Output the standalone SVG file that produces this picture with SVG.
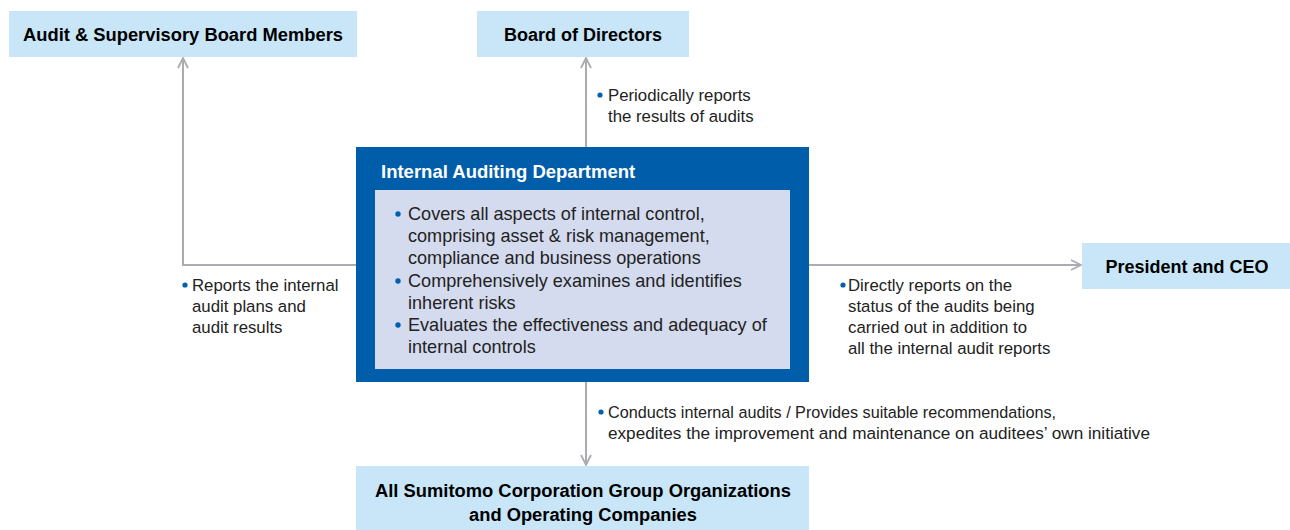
<svg xmlns="http://www.w3.org/2000/svg" width="1290" height="530" viewBox="0 0 1290 530">
<style>
.box{fill:#C8E6F8}
.bt{font-family:"Liberation Sans",Arial,sans-serif;font-weight:bold;font-size:18px;fill:#000;text-anchor:middle}
.lbl{font-family:"Liberation Sans",Arial,sans-serif;font-size:16.8px;fill:#222}
.body{font-family:"Liberation Sans",Arial,sans-serif;font-size:18.1px;fill:#222}
.dot{fill:#0060B0}
.con{stroke:#ABABB2;stroke-width:2;fill:none}
</style>
<defs>
<marker id="ah" viewBox="0 0 12 12" refX="11" refY="6" markerWidth="12" markerHeight="12" markerUnits="userSpaceOnUse" orient="auto">
<path d="M1,1 L11,6 L1,11" fill="none" stroke="#ABABB2" stroke-width="1.8"/>
</marker>
</defs>
<g id="connectors">
<polyline class="con" points="356,265 183,265 183,58" marker-end="url(#ah)"/>
<line class="con" x1="586" y1="147" x2="586" y2="58" marker-end="url(#ah)"/>
<line class="con" x1="809" y1="265" x2="1081" y2="265" marker-end="url(#ah)"/>
<line class="con" x1="586" y1="382" x2="586" y2="465" marker-end="url(#ah)"/>
</g>
<g id="audit-board">
<rect class="box" x="9" y="11" width="348" height="46"/>
<text class="bt" x="183" y="41" textLength="320" lengthAdjust="spacingAndGlyphs">Audit &amp; Supervisory Board Members</text>
</g>
<g id="board-directors">
<rect class="box" x="477" y="11" width="212" height="46"/>
<text class="bt" x="583" y="41">Board of Directors</text>
</g>
<g id="president">
<rect class="box" x="1082" y="243" width="208" height="46"/>
<text class="bt" x="1187" y="273">President and CEO</text>
</g>
<g id="group-orgs">
<rect class="box" x="356" y="466" width="453" height="64"/>
<text class="bt" x="583" y="497" textLength="416" lengthAdjust="spacingAndGlyphs">All Sumitomo Corporation Group Organizations</text>
<text class="bt" x="583" y="521" textLength="228" lengthAdjust="spacingAndGlyphs">and Operating Companies</text>
</g>
<g id="internal-auditing">
<rect x="356" y="147" width="453" height="235" fill="#005DAA"/>
<text x="381" y="178" font-family="Liberation Sans, Arial, sans-serif" font-weight="bold" font-size="18.5" fill="#fff">Internal Auditing Department</text>
<rect x="375" y="190" width="415" height="179" fill="#D4DBEE"/>
<circle class="dot" cx="398" cy="214" r="2.7"/>
<circle class="dot" cx="398" cy="281" r="2.7"/>
<circle class="dot" cx="398" cy="325" r="2.7"/>
<text class="body" x="408" y="220">Covers all aspects of internal control,</text>
<text class="body" x="408" y="242">comprising asset &amp; risk management,</text>
<text class="body" x="408" y="264">compliance and business operations</text>
<text class="body" x="408" y="287">Comprehensively examines and identifies</text>
<text class="body" x="408" y="309">inherent risks</text>
<text class="body" x="408" y="331">Evaluates the effectiveness and adequacy of</text>
<text class="body" x="408" y="353">internal controls</text>
</g>
<g id="labels">
<circle class="dot" cx="600" cy="95" r="2.6"/>
<text class="lbl" x="608" y="101">Periodically reports</text>
<text class="lbl" x="608" y="122">the results of audits</text>
<circle class="dot" cx="185" cy="285" r="2.6"/>
<text class="lbl" x="192" y="291">Reports the internal</text>
<text class="lbl" x="192" y="312">audit plans and</text>
<text class="lbl" x="192" y="333">audit results</text>
<circle class="dot" cx="843" cy="285" r="2.6"/>
<text class="lbl" x="848" y="291">Directly reports on the</text>
<text class="lbl" x="848" y="312">status of the audits being</text>
<text class="lbl" x="848" y="333">carried out in addition to</text>
<text class="lbl" x="848" y="354">all the internal audit reports</text>
<circle class="dot" cx="601" cy="412" r="2.6"/>
<text class="lbl" x="608" y="418" textLength="448" lengthAdjust="spacingAndGlyphs">Conducts internal audits / Provides suitable recommendations,</text>
<text class="lbl" x="608" y="439" textLength="542" lengthAdjust="spacingAndGlyphs">expedites the improvement and maintenance on auditees’ own initiative</text>
</g>
</svg>
